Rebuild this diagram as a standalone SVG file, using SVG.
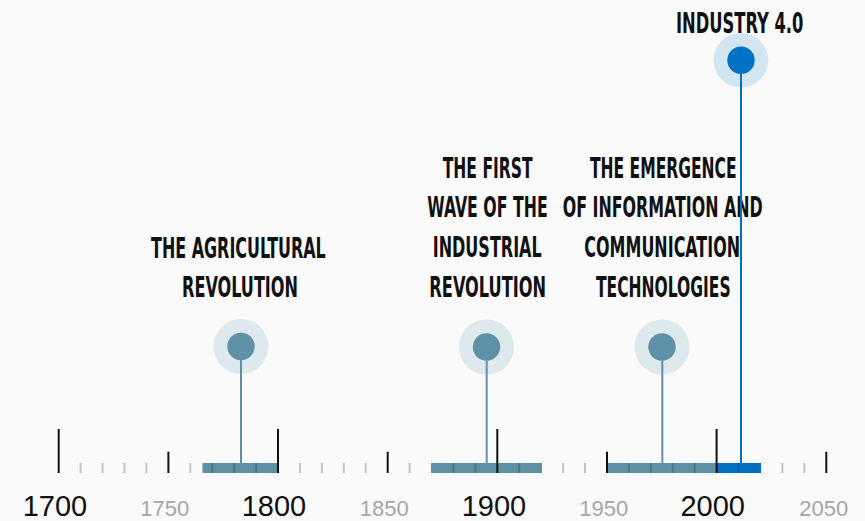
<svg xmlns="http://www.w3.org/2000/svg" width="865" height="521" viewBox="0 0 865 521">
<style>
.title{font-family:"DejaVu Sans Condensed","DejaVu Sans","Liberation Sans",sans-serif;font-weight:bold;font-size:29px;fill:#111;text-anchor:middle}
.major{font-family:"Liberation Sans",Arial,sans-serif;font-size:29px;fill:#111;text-anchor:middle}
.minor{font-family:"Liberation Sans",Arial,sans-serif;font-size:22px;fill:#a6a6a6;text-anchor:middle}
.tall{stroke:#111;stroke-width:2}
.mid{stroke:#111;stroke-width:2}
.grey{stroke:#c4c4c4;stroke-width:2}
.div{stroke:#4b7688;stroke-width:2}
.divb{stroke:#005c9e;stroke-width:2}
.bar{fill:#5f91a6}
.barb{fill:#0070c0}
.halo{fill:#dde9ec}
.halob{fill:#d4e5f2}
.dot{fill:#5f91a6}
.dotb{fill:#0072c6}
.stem{stroke:#5f91a6;stroke-width:2}
.stemb{stroke:#0072c6;stroke-width:2}
</style>
<rect width="865" height="521" fill="#fafafa"/>
<g id="axis">
<rect class="bar" x="202.5" y="463" width="75.5" height="10"/>
<rect class="bar" x="431" y="463" width="111" height="10"/>
<rect class="bar" x="607" y="463" width="109.6" height="10"/>
<rect class="barb" x="716.6" y="463" width="44.4" height="10"/>
<g>
<line class="grey" x1="80.6" y1="463" x2="80.6" y2="473"/>
<line class="grey" x1="102.6" y1="463" x2="102.6" y2="473"/>
<line class="grey" x1="124.5" y1="463" x2="124.5" y2="473"/>
<line class="grey" x1="146.4" y1="463" x2="146.4" y2="473"/>
<line class="grey" x1="190.3" y1="463" x2="190.3" y2="473"/>
<line class="grey" x1="300" y1="463" x2="300" y2="473"/>
<line class="grey" x1="321.9" y1="463" x2="321.9" y2="473"/>
<line class="grey" x1="343.8" y1="463" x2="343.8" y2="473"/>
<line class="grey" x1="365.7" y1="463" x2="365.7" y2="473"/>
<line class="grey" x1="409.6" y1="463" x2="409.6" y2="473"/>
<line class="grey" x1="563.1" y1="463" x2="563.1" y2="473"/>
<line class="grey" x1="585" y1="463" x2="585" y2="473"/>
<line class="grey" x1="782.4" y1="463" x2="782.4" y2="473"/>
<line class="grey" x1="804.3" y1="463" x2="804.3" y2="473"/>
<line class="div" x1="212.2" y1="463" x2="212.2" y2="473"/>
<line class="div" x1="234.2" y1="463" x2="234.2" y2="473"/>
<line class="div" x1="256.1" y1="463" x2="256.1" y2="473"/>
<line class="div" x1="453.4" y1="463" x2="453.4" y2="473"/>
<line class="div" x1="475.4" y1="463" x2="475.4" y2="473"/>
<line class="div" x1="519.2" y1="463" x2="519.2" y2="473"/>
<line class="div" x1="628.9" y1="463" x2="628.9" y2="473"/>
<line class="div" x1="650.8" y1="463" x2="650.8" y2="473"/>
<line class="div" x1="672.7" y1="463" x2="672.7" y2="473"/>
<line class="div" x1="694.7" y1="463" x2="694.7" y2="473"/>
<line class="divb" x1="738.5" y1="463" x2="738.5" y2="473"/>
<line class="tall" x1="58.7" y1="429" x2="58.7" y2="473"/>
<line class="tall" x1="278" y1="429" x2="278" y2="473"/>
<line class="tall" x1="497.3" y1="429" x2="497.3" y2="473"/>
<line class="tall" x1="716.6" y1="429" x2="716.6" y2="473"/>
<line class="mid" x1="168.4" y1="451.7" x2="168.4" y2="473"/>
<line class="mid" x1="387.7" y1="451.7" x2="387.7" y2="473"/>
<line class="mid" x1="607" y1="451.7" x2="607" y2="473"/>
<line class="mid" x1="826.3" y1="451.7" x2="826.3" y2="473"/>
</g>
<text class="major" x="55" y="516">1700</text>
<text class="minor" x="164.7" y="516">1750</text>
<text class="major" x="274" y="516">1800</text>
<text class="minor" x="384.3" y="516">1850</text>
<text class="major" x="494" y="516">1900</text>
<text class="minor" x="603.8" y="516">1950</text>
<text class="major" x="712.7" y="516">2000</text>
<text class="minor" x="823.7" y="516">2050</text>
</g>
<g id="node-agricultural">
<text class="title" x="238.4" y="258" textLength="174.7" lengthAdjust="spacingAndGlyphs">THE AGRICULTURAL</text>
<text class="title" x="240" y="297" textLength="116" lengthAdjust="spacingAndGlyphs">REVOLUTION</text>
<circle class="halo" cx="241" cy="346.5" r="27.5"/>
<circle class="dot" cx="241" cy="346.5" r="13.7"/>
</g>
<g id="node-industrial">
<text class="title" x="487.7" y="177.5" textLength="90" lengthAdjust="spacingAndGlyphs">THE FIRST</text>
<text class="title" x="487.5" y="217.3" textLength="120.3" lengthAdjust="spacingAndGlyphs">WAVE OF THE</text>
<text class="title" x="487.2" y="257.3" textLength="109" lengthAdjust="spacingAndGlyphs">INDUSTRIAL</text>
<text class="title" x="487.7" y="297" textLength="116.7" lengthAdjust="spacingAndGlyphs">REVOLUTION</text>
<circle class="halo" cx="486.5" cy="347" r="27.5"/>
<circle class="dot" cx="486.5" cy="347" r="13.7"/>
</g>
<g id="node-ict">
<text class="title" x="663.3" y="177.5" textLength="146.7" lengthAdjust="spacingAndGlyphs">THE EMERGENCE</text>
<text class="title" x="662.7" y="217.3" textLength="200" lengthAdjust="spacingAndGlyphs">OF INFORMATION AND</text>
<text class="title" x="662.2" y="257.3" textLength="155.7" lengthAdjust="spacingAndGlyphs">COMMUNICATION</text>
<text class="title" x="663.3" y="297" textLength="134.7" lengthAdjust="spacingAndGlyphs">TECHNOLOGIES</text>
<circle class="halo" cx="662" cy="347" r="27.5"/>
<circle class="dot" cx="662" cy="347" r="13.7"/>
</g>
<g id="node-industry40">
<text class="title" x="739.7" y="33.3" textLength="127.3" lengthAdjust="spacingAndGlyphs">INDUSTRY 4.0</text>
<circle class="halob" cx="741" cy="60.3" r="27.3"/>
<circle class="dotb" cx="741" cy="60.3" r="13.7"/>
</g>
<g id="connectors">
<line class="stem" x1="241" y1="360" x2="241" y2="463"/>
<line class="stem" x1="486.7" y1="360.5" x2="486.7" y2="463"/>
<line class="stem" x1="662.3" y1="360.5" x2="662.3" y2="463"/>
<line class="stemb" x1="741" y1="74" x2="741" y2="463"/>
</g>
</svg>
